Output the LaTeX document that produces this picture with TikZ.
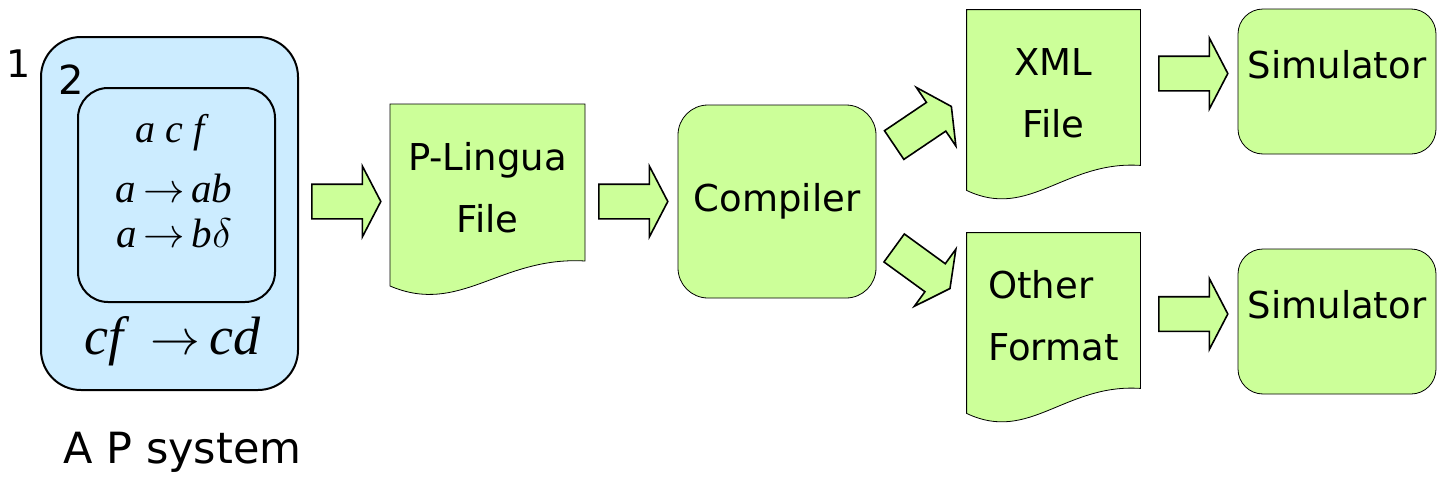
\documentclass[tikz,border=0pt]{standalone}
\usepackage{amsmath}
\usepackage{fontspec}
\setmainfont{DejaVu Sans}
\newfontfamily\rulefont{Liberation Serif}
\usetikzlibrary{shapes.arrows}
\usetikzlibrary{calc}
\usetikzlibrary{backgrounds}

\definecolor{membrane}{RGB}{204,236,255}
\definecolor{toolgreen}{RGB}{204,255,153}
\newcommand\boxfont{\fontsize{18.5}{31}\selectfont}
\newcommand\rl{\rulefont\itshape}
% document outline with a wavy lower edge
\newcommand\docwave[1]{%
  \begin{pgfonlayer}{background}
    \draw[fill=toolgreen] (#1.north west) -- (#1.north east) -- ($(#1.south east)+(0,-11)$)
      .. controls ($(#1.south west)!0.565!(#1.south east)+(0,-16)$) and ($(#1.south west)!0.36!(#1.south east)+(0,44)$) .. ($(#1.south west)+(0,14)$) -- cycle;
  \end{pgfonlayer}}

\begin{document}
\begin{tikzpicture}[x=0.5pt, y=-0.5pt, line width=1pt,
    region/.style = {draw, fill=membrane, inner sep=0pt},
    toolbox/.style = {draw, fill=toolgreen, rounded corners=15pt, inner sep=0pt, minimum width=99pt, minimum height=96.5pt, font=\boxfont},
    simbox/.style = {draw, fill=toolgreen, rounded corners=12.5pt, inner sep=0pt, minimum width=99pt, minimum height=72.5pt, text height=34.5pt, text depth=38pt, font=\boxfont},
    docbox/.style = {inner sep=0pt, minimum height=83pt, font=\boxfont},
    fat/.style = {single arrow, draw, fill=toolgreen, line width=0.8pt, inner sep=0pt, inner ysep=8.25pt, minimum width=34.5pt, minimum height=34.5pt, single arrow head extend=9pt, single arrow tip angle=125, single arrow head indent=0pt, anchor=tail}]
    \useasboundingbox (0,0) rectangle (1441,482);

    % the P system
    \node[region, rounded corners=20pt, minimum width=128.5pt, minimum height=176.5pt] (skin) at (169.5,213.5) {};
    \node[region, rounded corners=15pt, minimum width=98.5pt, minimum height=107pt] (inner) at (176.5,195) {};
    \node[font=\fontsize{19}{22}\selectfont] (lab1) at (19,64) {1};
    \node[font=\fontsize{20}{24}\selectfont] (lab2) at (71,80) {2};
    \node[anchor=base, font=\fontsize{20}{24}\selectfont\rl] (objs) at (170,142) {a c f};
    \node[align=center, inner sep=0pt, font=\fontsize{20.5}{22.5}\selectfont\rl] (rules) at (174,211) {a\,$\rightarrow$\,ab\\a\,$\rightarrow$\,b$\delta$};
    \node[anchor=base, font=\fontsize{27}{32}\selectfont\rl] (rule3) at (172.5,354) {cf\enspace$\rightarrow$\,cd};
    \node[anchor=base, font=\fontsize{21.5}{26}\selectfont] (caption) at (182.5,463) {A P system};

    % tool chain
    \node[docbox, minimum width=96.5pt, align=center] (pling) at (487.5,188) {P-Lingua\\File};
    \docwave{pling}
    \node[toolbox] (comp) at (777,201.5) {Compiler};
    \node[docbox, minimum width=86.5pt, align=center] (xml) at (1053.5,93) {XML\\File};
    \docwave{xml}
    \node[docbox, minimum width=86.5pt, align=left] (other) at (1053.5,316) {Other\\Format};
    \docwave{other}
    \node[simbox] (sim1) at (1337,81.5) {Simulator};
    \node[simbox] (sim2) at (1337,321.5) {Simulator};

    % block arrows
    \node[fat] (a1) at (311,201.5) {};
    \node[fat] (a2) at (598,201.5) {};
    \node[fat, rotate=34] (a3) at (893.5,145.5) {};
    \node[fat, rotate=-36] (a4) at (893.5,247.5) {};
    \node[fat] (a5) at (1158,73.5) {};
    \node[fat] (a6) at (1158,314) {};
\end{tikzpicture}
\end{document}
